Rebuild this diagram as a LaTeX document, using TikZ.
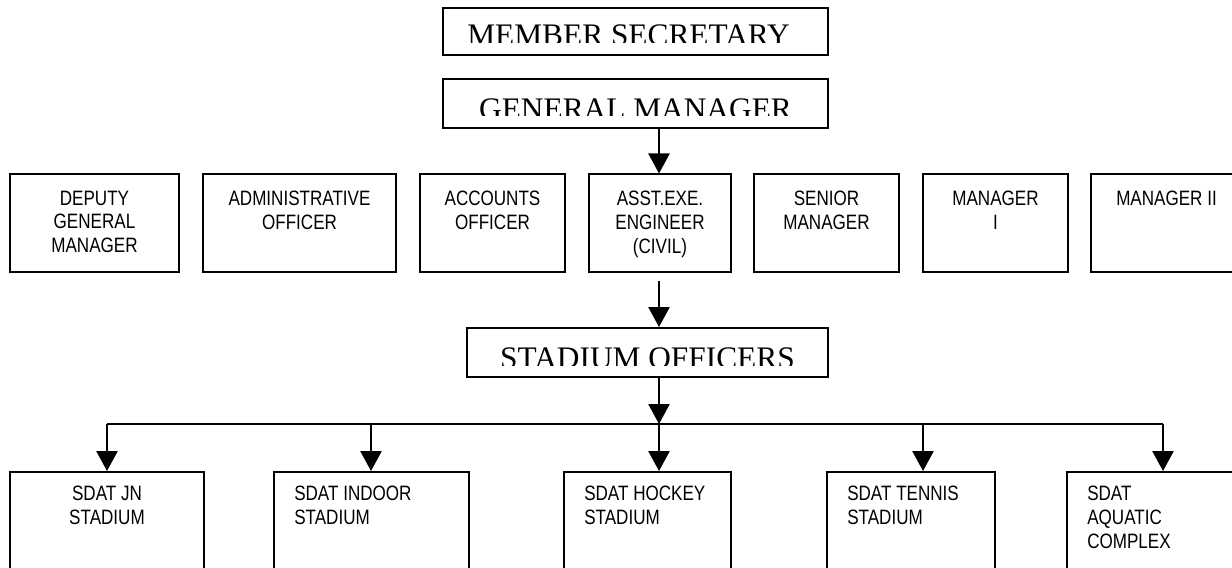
\documentclass[tikz,border=0pt]{standalone}
\usepackage{fontspec}
\setmainfont{Liberation Serif}
\newfontfamily\orgsans[FakeStretch=0.82]{Liberation Sans}
\usetikzlibrary{arrows.meta}

\begin{document}
\begin{tikzpicture}[x=0.025cm,y=-0.025cm,
    box/.style={draw,line width=1.4pt,inner sep=0pt},
    titletext/.style={inner sep=0pt,font=\fontsize{22.3}{26}\selectfont},
    orgtext/.style={inner sep=0pt,font=\orgsans\fontsize{14.8}{17}\selectfont},
    link/.style={line width=1.4pt},
    arr/.style={line width=1.4pt,-{Triangle[width=0.53cm,length=0.5cm]}}]
    \path[use as bounding box,clip] (0,0) rectangle (1232,567);

    % Top boxes
    \node[box,minimum width=9.625cm,minimum height=1.175cm] (ms) at (635.5,31.5) {};
    \node[box,minimum width=9.625cm,minimum height=1.225cm] (gm) at (635.5,103.5) {};
    \begin{scope}
        \clip (ms.north west) rectangle ([yshift=0.325cm]ms.south east);
        \node[titletext,anchor=north] (ms-lbl) at ([xshift=-0.175cm,yshift=-0.425cm]ms.north) {MEMBER SECRETARY};
    \end{scope}
    \begin{scope}
        \clip (gm.north west) rectangle ([yshift=0.325cm]gm.south east);
        \node[titletext,anchor=north] (gm-lbl) at ([yshift=-0.5cm]gm.north) {GENERAL MANAGER};
    \end{scope}

    % Officers row
    \node[box,minimum width=4.225cm,minimum height=2.44cm] (dgm) at (94.5,223.25) {};
    \node[box,minimum width=4.825cm,minimum height=2.44cm] (ao) at (299.5,223.25) {};
    \node[box,minimum width=3.625cm,minimum height=2.44cm] (acc) at (492.5,223.25) {};
    \node[box,minimum width=3.55cm,minimum height=2.44cm] (aee) at (660,223.25) {};
    \node[box,minimum width=3.625cm,minimum height=2.44cm] (sm) at (826.5,223.25) {};
    \node[box,minimum width=3.625cm,minimum height=2.44cm] (mgr1) at (995.5,223.25) {};
    \node[box,minimum width=3.775cm,minimum height=2.44cm] (mgr2) at (1166.5,223.25) {};
    \node[orgtext,anchor=north,align=center] (dgm-lbl) at ([yshift=-0.425cm]dgm.north) {DEPUTY\\GENERAL\\MANAGER};
    \node[orgtext,anchor=north,align=center] (ao-lbl) at ([yshift=-0.425cm]ao.north) {ADMINISTRATIVE\\OFFICER};
    \node[orgtext,anchor=north,align=center] (acc-lbl) at ([yshift=-0.425cm]acc.north) {ACCOUNTS\\OFFICER};
    \node[orgtext,anchor=north,align=center] (aee-lbl) at ([yshift=-0.425cm]aee.north) {ASST.EXE.\\ENGINEER\\(CIVIL)};
    \node[orgtext,anchor=north,align=center] (sm-lbl) at ([yshift=-0.425cm]sm.north) {SENIOR\\MANAGER};
    \node[orgtext,anchor=north,align=center] (mgr1-lbl) at ([yshift=-0.425cm]mgr1.north) {MANAGER\\I};
    \node[orgtext,anchor=north,align=center] (mgr2-lbl) at ([yshift=-0.425cm]mgr2.north) {MANAGER II};

    % Stadium officers
    \node[box,minimum width=9.025cm,minimum height=1.225cm] (so) at (647.5,352.5) {};
    \begin{scope}
        \clip (so.north west) rectangle ([yshift=0.3cm]so.south east);
        \node[titletext,anchor=north] (so-lbl) at ([yshift=-0.5cm]so.north) {STADIUM OFFICERS};
    \end{scope}

    % Stadiums
    \node[box,minimum width=4.85cm,minimum height=2.75cm] (jn) at (107,527) {};
    \node[box,minimum width=4.875cm,minimum height=2.75cm] (indoor) at (371.5,527) {};
    \node[box,minimum width=4.175cm,minimum height=2.75cm] (hockey) at (647.5,527) {};
    \node[box,minimum width=4.2cm,minimum height=2.75cm] (tennis) at (911,527) {};
    \node[box,minimum width=4.825cm,minimum height=2.75cm] (aquatic) at (1163.5,527) {};
    \node[orgtext,anchor=north,align=center] (jn-lbl) at ([yshift=-0.375cm]jn.north) {SDAT JN\\STADIUM};
    \node[orgtext,anchor=north west,align=left] (indoor-lbl) at ([xshift=0.525cm,yshift=-0.375cm]indoor.north west) {SDAT INDOOR\\STADIUM};
    \node[orgtext,anchor=north west,align=left] (hockey-lbl) at ([xshift=0.525cm,yshift=-0.375cm]hockey.north west) {SDAT HOCKEY\\STADIUM};
    \node[orgtext,anchor=north west,align=left] (tennis-lbl) at ([xshift=0.525cm,yshift=-0.375cm]tennis.north west) {SDAT TENNIS\\STADIUM};
    \node[orgtext,anchor=north west,align=left] (aquatic-lbl) at ([xshift=0.525cm,yshift=-0.375cm]aquatic.north west) {SDAT\\AQUATIC\\COMPLEX};

    % Connectors
    \coordinate (t1) at (107,424);
    \coordinate (t2) at (371,424);
    \coordinate (t3) at (659,424);
    \coordinate (t4) at (923,424);
    \coordinate (t5) at (1163,424);
    \draw[arr] (t3 |- gm.south) -- (t3 |- aee.north);
    \draw[arr] ([yshift=-0.2cm]t3 |- aee.south) -- (t3 |- so.north);
    \draw[arr] (t3 |- so.south) -- (t3);
    \draw[link] (t1) -- (t5);
    \draw[arr] (t1) -- (t1 |- jn.north);
    \draw[arr] (t2) -- (t2 |- indoor.north);
    \draw[arr] (t3) -- (t3 |- hockey.north);
    \draw[arr] (t4) -- (t4 |- tennis.north);
    \draw[arr] (t5) -- (t5 |- aquatic.north);
\end{tikzpicture}
\end{document}
